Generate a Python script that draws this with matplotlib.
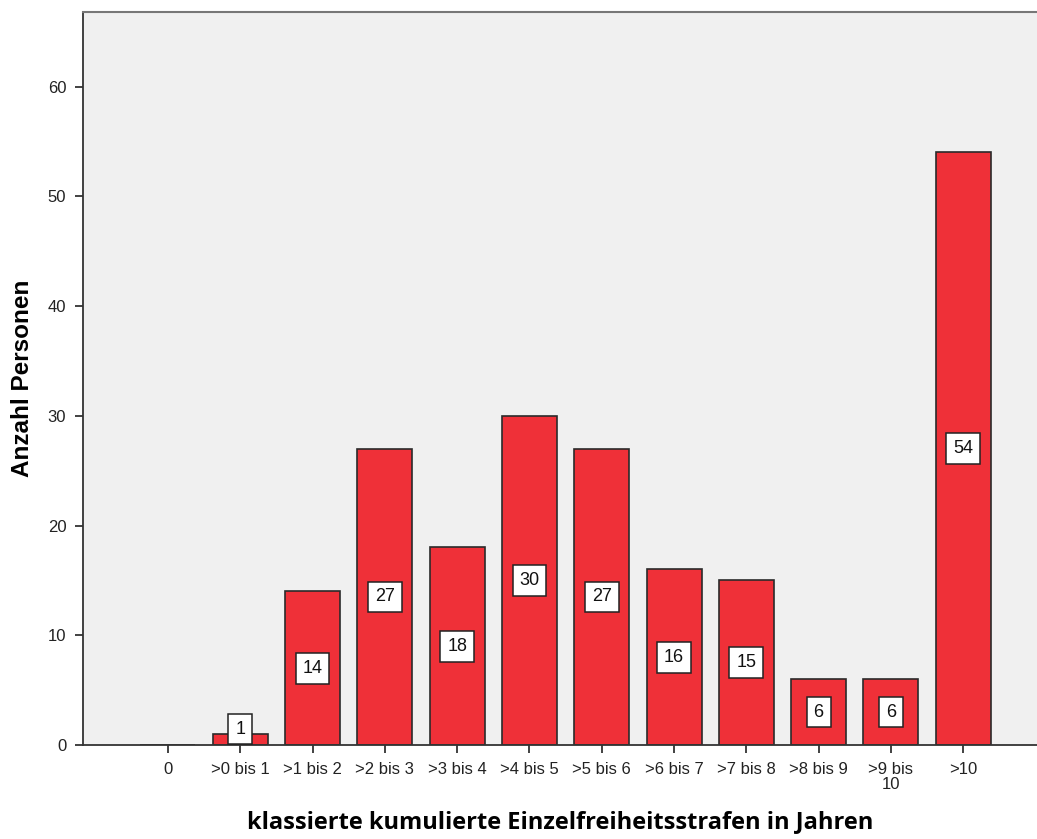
import matplotlib
matplotlib.use("Agg")
import matplotlib.pyplot as plt

categories = ["0", ">0 bis 1", ">1 bis 2", ">2 bis 3", ">3 bis 4", ">4 bis 5",
              ">5 bis 6", ">6 bis 7", ">7 bis 8", ">8 bis 9", ">9 bis\n10", ">10"]
counts = [0, 1, 14, 27, 18, 30, 27, 16, 15, 6, 6, 54]
y_ticks = [0, 10, 20, 30, 40, 50, 60]

fig = plt.figure(figsize=(10.37, 8.39), dpi=100)
ax = fig.add_axes([0.080, 0.112, 0.920, 0.8738])
ax.set_facecolor("#F0F0F0")

x = list(range(len(categories)))
ax.bar(x, counts, width=0.76, color="#EF3038", edgecolor="#2a2a2a", linewidth=1.2, zorder=2)

for xi, v in zip(x, counts):
    if v <= 0:
        continue
    ypos = max(v / 2, 1.45)
    ax.text(xi, ypos, str(v), ha="center", va="center", fontsize=13,
            family="Liberation Sans", color="#111111", zorder=3,
            bbox=dict(boxstyle="square,pad=0.38", facecolor="white",
                      edgecolor="#222222", linewidth=1.1))

ax.set_xlim(-1.175, 12.02)
ax.set_ylim(0, 66.8)
ax.set_xticks(x)
ax.set_xticklabels(categories, family="Liberation Sans", fontsize=12, linespacing=1.0)
ax.set_yticks(y_ticks)
ax.set_yticklabels([str(t) for t in y_ticks], family="Liberation Sans", fontsize=12)
ax.tick_params(axis="both", direction="out", length=6, width=1.3, color="#333333",
               labelcolor="#222222", pad=6)

for side in ["left", "bottom"]:
    ax.spines[side].set_color("#333333")
    ax.spines[side].set_linewidth(1.3)
ax.spines["top"].set_color("#777777")
ax.spines["top"].set_linewidth(1.5)
ax.spines["right"].set_visible(False)

ax.set_ylabel("Anzahl Personen", family="Liberation Sans", fontweight="bold",
              fontsize=17.5, labelpad=10)
ax.set_xlabel("klassierte kumulierte Einzelfreiheitsstrafen in Jahren",
              family="Open Sans", fontweight="bold", fontsize=17, labelpad=13)

fig.savefig("out.png", dpi=100)
